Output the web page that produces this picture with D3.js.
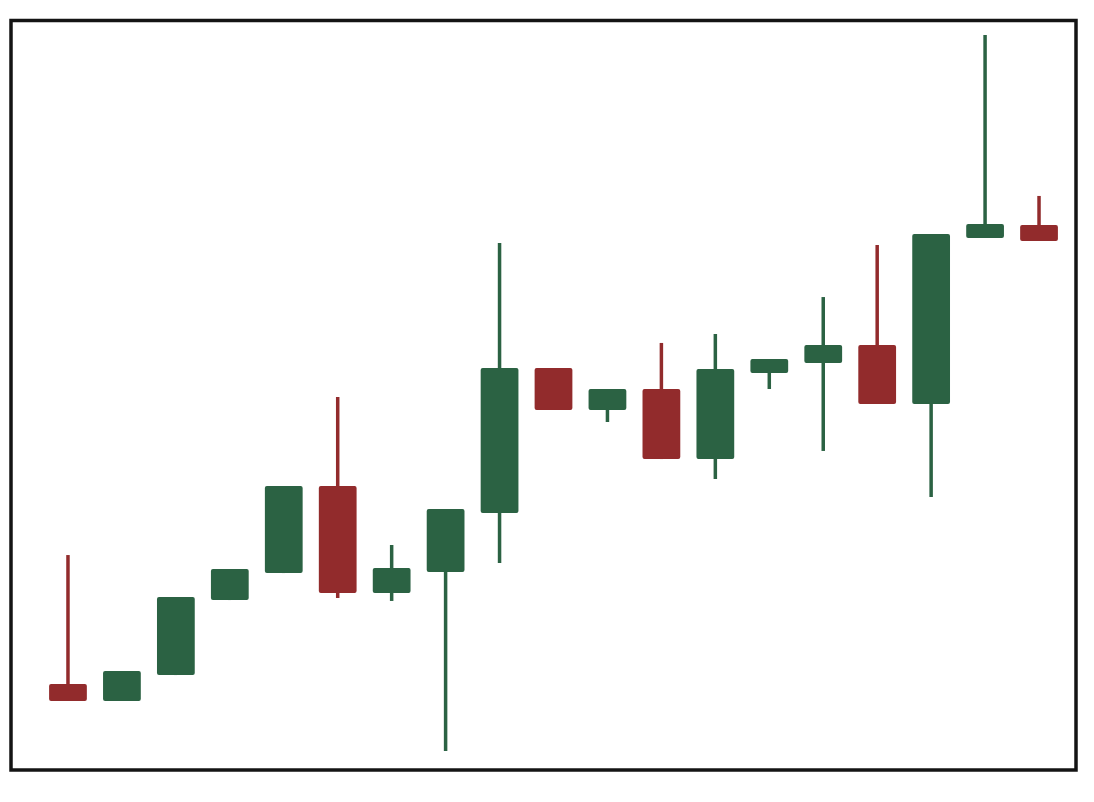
<!DOCTYPE html>
<html lang='en'>
<head>
  <meta charset='UTF-8'>
  <title>Candlesticks</title>
  <style type='text/css'>
    html, body {
      margin: 0;
      padding: 0;
      background: #fff;
    }
    .frame {
      fill: none;
      stroke: #141414;
      stroke-width: 3.5px;
    }
    .wick {
      stroke-width: 3.5px;
      stroke-linecap: butt;
    }
  </style>
  <script type='text/javascript' src='https://cdnjs.cloudflare.com/ajax/libs/d3/7.8.5/d3.min.js'></script>
</head>
<body>
  <script type='text/javascript'>
    // one entry per session
    const days = ['1', '2', '3', '4', '5', '6', '7', '8', '9', '10',
      '11', '12', '13', '14', '15', '16', '17', '18', '19']
    const opens = [105.73, 104.6, 106.33, 111.33, 113.13, 118.93, 111.8, 113.2, 117.13, 126.8,
      124, 125.4, 120.73, 126.47, 127.13, 128.33, 124.4, 135.47, 136.33]
    const highs = [114.33, 106.6, 111.53, 113.4, 118.93, 124.87, 115, 117.4, 135.13, 126.8,
      125.4, 128.47, 129.07, 127.4, 131.53, 135, 135.73, 149, 138.27]
    const lows = [104.6, 104.6, 106.33, 111.33, 113.13, 111.47, 111.27, 101.27, 113.8, 124,
      123.2, 120.73, 119.4, 125.4, 121.27, 124.4, 118.2, 135.47, 135.27]
    const closes = [104.6, 106.6, 111.53, 113.4, 118.93, 111.8, 113.47, 117.4, 126.8, 124,
      125.4, 120.73, 126.73, 127.4, 128.33, 124.4, 135.73, 136.4, 135.27]

    const upColor = '#2b6243'
    const downColor = '#922b2c'

    const width = 1094
    const height = 802

    const svg = d3.select('body').append('svg')
      .attr('width', width)
      .attr('height', height)

    const data = days.map((d, i) => ({
      day: d,
      open: opens[i],
      high: highs[i],
      low: lows[i],
      close: closes[i]
    }))

    const xScale = d3.scaleBand()
      .domain(days)
      .range([41, 1066])
      .paddingInner(0.3)
      .paddingOuter(0.15)

    const yScale = d3.scaleLinear()
      .domain([100, 150])
      .range([770, 20])

    const color = d => d.close >= d.open ? upColor : downColor

    const candle = svg.selectAll('.candle')
      .data(data)
      .enter().append('g')
      .attr('class', 'candle')

    candle.append('line')
      .attr('class', 'wick')
      .attr('x1', d => xScale(d.day) + xScale.bandwidth() / 2)
      .attr('x2', d => xScale(d.day) + xScale.bandwidth() / 2)
      .attr('y1', d => yScale(d.high))
      .attr('y2', d => yScale(d.low))
      .style('stroke', color)

    candle.append('rect')
      .attr('x', d => xScale(d.day))
      .attr('width', xScale.bandwidth())
      .attr('y', d => yScale(Math.max(d.open, d.close)))
      .attr('height', d => Math.max(1, Math.abs(yScale(d.open) - yScale(d.close))))
      .attr('rx', 2)
      .style('fill', color)

    svg.append('rect')
      .attr('class', 'frame')
      .attr('x', 11)
      .attr('y', 20.5)
      .attr('width', 1065)
      .attr('height', 749.5)
  </script>
</body>
</html>
